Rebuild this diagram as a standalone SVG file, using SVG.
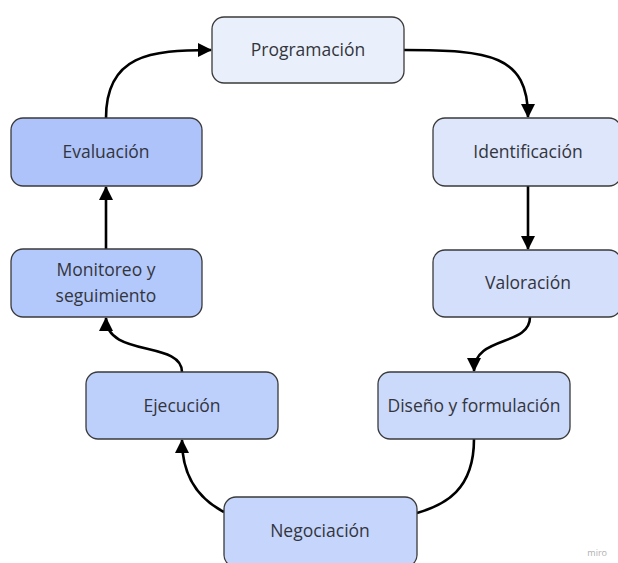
<svg xmlns="http://www.w3.org/2000/svg" width="618" height="563" viewBox="0 0 618 563">
<style>
.n{stroke:#3a3a3a;stroke-width:1.3}
.t{font-family:"Open Sans","Noto Sans",sans-serif;font-size:17.5px;fill:#33353d;text-anchor:middle;dominant-baseline:central}
.c{fill:none;stroke:#000;stroke-width:2.6}
</style>
<defs>
<marker id="ah" markerUnits="userSpaceOnUse" markerWidth="14" markerHeight="14" viewBox="0 0 14 14" refX="13" refY="7" orient="auto">
<path d="M0,0 L14,7 L0,14 Z" fill="#000"/>
</marker>
</defs>
<rect width="618" height="563" fill="#fff"/>
<g id="connectors">
<path class="c" d="M404,50 C490,50 528,55 528,117" marker-end="url(#ah)"/>
<path class="c" d="M528,186 L528,249" marker-end="url(#ah)"/>
<path class="c" d="M530,317 C530,347 474,335 474,371" marker-end="url(#ah)"/>
<path class="c" d="M474,439 C474,490 445,505 417,513"/>
<path class="c" d="M224,512 C195,497 182,472 182,440" marker-end="url(#ah)"/>
<path class="c" d="M182,372 C182,340 106,358 106,318" marker-end="url(#ah)"/>
<path class="c" d="M106,249 L106,187" marker-end="url(#ah)"/>
<path class="c" d="M106,118 C106,55 150,50 211,50" marker-end="url(#ah)"/>
</g>
<g id="programacion"><rect class="n" x="212" y="17" width="192" height="66" rx="12" fill="#eaf0fb"/><text class="t" x="308" y="49">Programación</text></g>
<g id="identificacion"><rect class="n" x="433" y="118" width="188" height="68" rx="12" fill="#dde6fb"/><text class="t" x="528" y="151">Identificación</text></g>
<g id="valoracion"><rect class="n" x="433" y="250" width="188" height="67" rx="12" fill="#d4dffb"/><text class="t" x="528" y="282">Valoración</text></g>
<g id="diseno"><rect class="n" x="378" y="372" width="192" height="67" rx="12" fill="#cbd9fb"/><text class="t" x="474" y="405">Diseño y formulación</text></g>
<g id="negociacion"><rect class="n" x="224" y="497" width="193" height="70" rx="12" fill="#c6d5fb"/><text class="t" x="320" y="530">Negociación</text></g>
<g id="ejecucion"><rect class="n" x="86" y="372" width="192" height="67" rx="12" fill="#bdcffb"/><text class="t" x="182" y="405">Ejecución</text></g>
<g id="monitoreo"><rect class="n" x="11" y="249" width="191" height="68" rx="12" fill="#b4c9fb"/><text class="t" x="106" y="269">Monitoreo y</text><text class="t" x="106" y="295">seguimiento</text></g>
<g id="evaluacion"><rect class="n" x="11" y="118" width="191" height="68" rx="12" fill="#adc3fa"/><text class="t" x="106" y="151">Evaluación</text></g>
<text x="607" y="556" font-family="'Open Sans','Noto Sans',sans-serif" font-size="9" fill="#b0b0b0" text-anchor="end">miro</text>
</svg>
